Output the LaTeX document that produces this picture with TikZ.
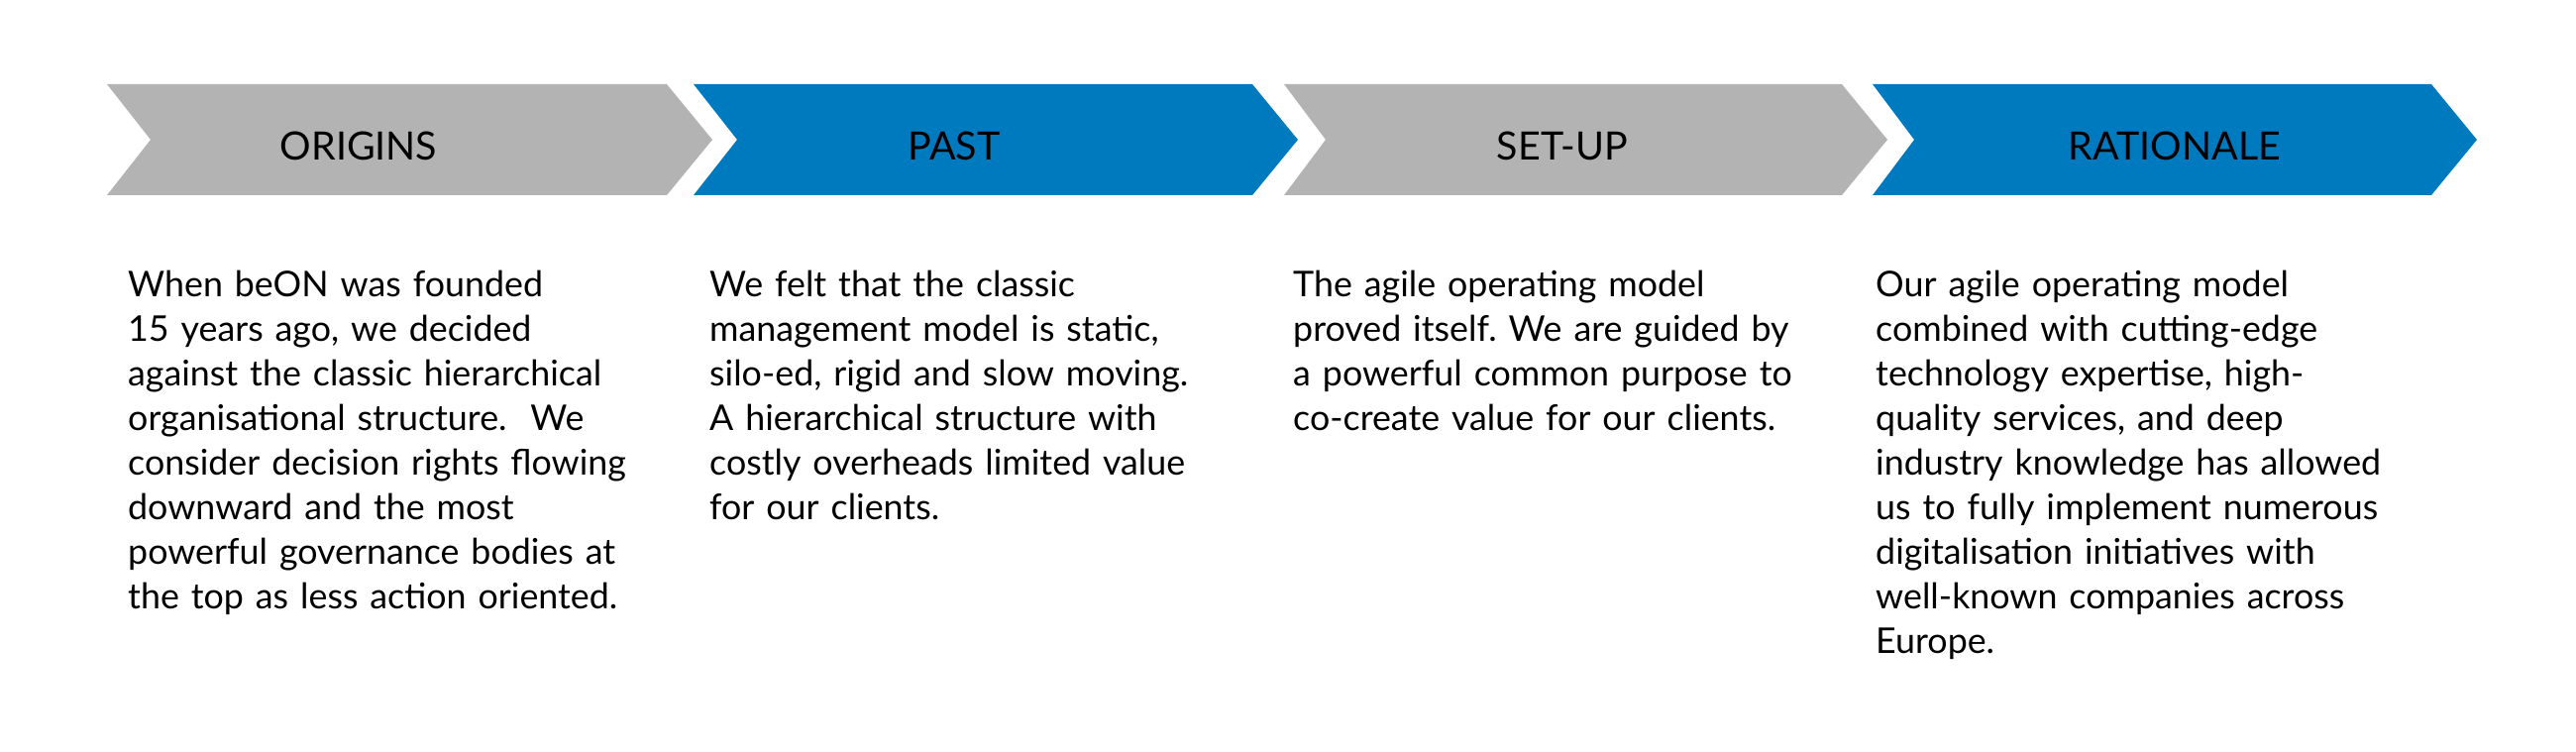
\documentclass[tikz,border=0pt]{standalone}
\usepackage{fontspec}
\setmainfont{Lato}
\usepackage{tikz}
\usetikzlibrary{positioning}
\definecolor{chevgrey}{RGB}{179,179,179}
\definecolor{chevblue}{RGB}{0,122,191}
\frenchspacing

\begin{document}
\begin{tikzpicture}[
                x=1pt,y=-1pt,
                chev/.style={line width=0pt},
                head/.style={inner sep=0pt,anchor=base,font=\fontsize{39.4}{45}\selectfont},
                body/.style={inner sep=0pt,anchor=base west,text width=580pt,align=left,
                             font=\fontsize{35.8}{45}\selectfont}
            ]
                \useasboundingbox (0,0) rectangle (2600,759);

                % chevrons
                \fill[chev,chevgrey] (108,85)  -- (673,85)  -- (719,141)  -- (673,197)  -- (108,197)  -- (152,141)  -- cycle;
                \fill[chev,chevblue] (700,85)  -- (1264,85) -- (1310,141) -- (1264,197) -- (700,197)  -- (744,141)  -- cycle;
                \fill[chev,chevgrey] (1296,85) -- (1859,85) -- (1905,141) -- (1859,197) -- (1296,197) -- (1338,141) -- cycle;
                \fill[chev,chevblue] (1890,85) -- (2454,85) -- (2500,141) -- (2454,197) -- (1890,197) -- (1932,141) -- cycle;

                \node[head] (origins)   at (362,162)  {ORIGINS};
                \node[head] (past)      at (963,162)  {PAST};
                \node[head] (setup)     at (1577,162) {SET-UP};
                \node[head] (rationale) at (2195,162) {RATIONALE};

                \node[body] (origins-text) at (129,300) {When beON was founded\\
                    15 years ago, we decided\\
                    against the classic hierarchical\\
                    organisational structure.~ We\\
                    consider decision rights flowing\\
                    downward and the most\\
                    powerful governance bodies at\\
                    the top as less action oriented.};
                \node[body] (past-text) at (716,300) {We felt that the classic\\
                    management model is static,\\
                    silo-ed, rigid and slow moving.\\
                    A hierarchical structure with\\
                    costly overheads limited value\\
                    for our clients.};
                \node[body] (setup-text) at (1305,300) {The agile operating model\\
                    proved itself. We are guided by\\
                    a powerful common purpose to\\
                    co-create value for our clients.};
                \node[body] (rationale-text) at (1893,300) {Our agile operating model\\
                    combined with cutting-edge\\
                    technology expertise, high-\\
                    quality services, and deep\\
                    industry knowledge has allowed\\
                    us to fully implement numerous\\
                    digitalisation initiatives with\\
                    well-known companies across\\
                    Europe.};
            \end{tikzpicture}
\end{document}
